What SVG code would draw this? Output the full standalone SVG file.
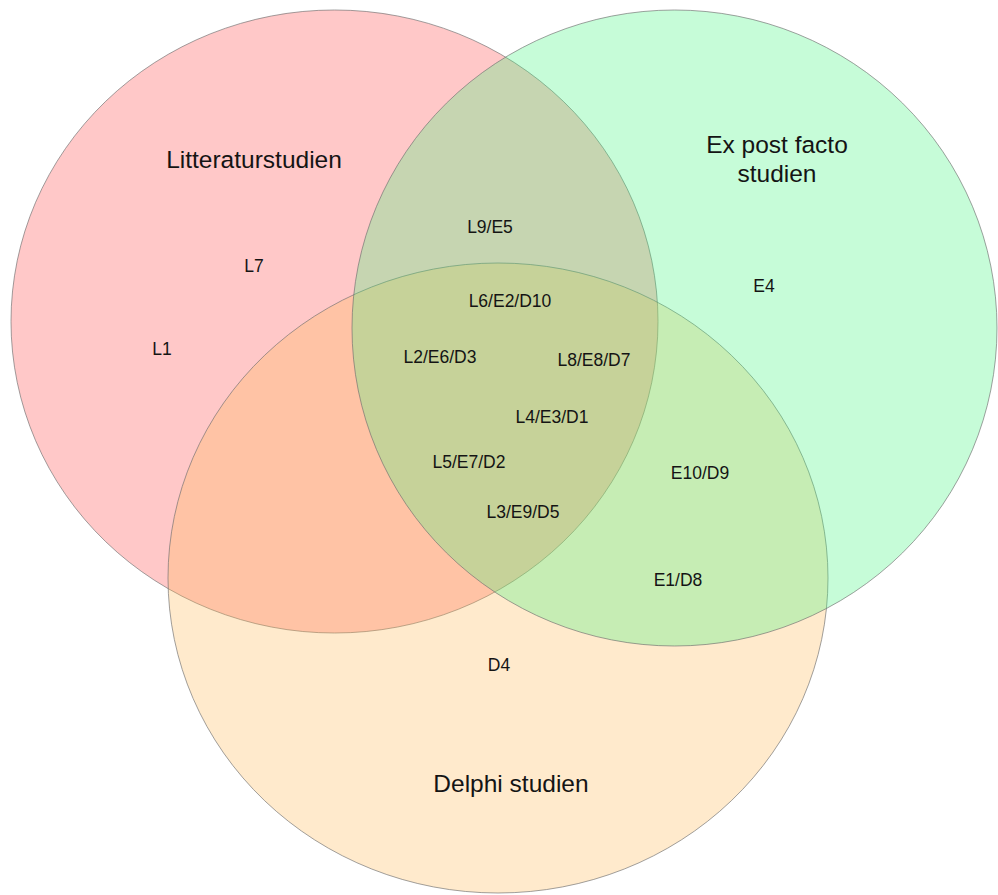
<svg xmlns="http://www.w3.org/2000/svg" width="998" height="895" viewBox="0 0 998 895">
  <style>
    .set { stroke: #6f6f6f; stroke-width: 1; stroke-opacity: 0.65; fill-opacity: 0.3; }
    .title { font-family: "Liberation Sans", Arial, sans-serif; font-size: 24.5px; fill: #141414; text-anchor: middle; }
    .item { font-family: "Liberation Sans", Arial, sans-serif; font-size: 17.5px; fill: #141414; text-anchor: middle; }
  </style>
  <rect width="998" height="895" fill="#ffffff"/>

  <!-- Litteraturstudien set -->
  <g id="set-litteratur">
    <ellipse class="set" cx="334.5" cy="321.5" rx="323.5" ry="311.5" fill="#ff4848"/>
  </g>

  <!-- Delphi studien set -->
  <g id="set-delphi">
    <ellipse class="set" cx="498" cy="578" rx="330" ry="315" fill="#ffb955"/>
  </g>

  <!-- Ex post facto studien set -->
  <g id="set-expost">
    <ellipse class="set" cx="674.5" cy="328" rx="322.5" ry="318" fill="#41f57d"/>
  </g>

  <!-- Set titles -->
  <g id="titles">
    <text class="title" x="254" y="168">Litteraturstudien</text>
    <text class="title" x="777" y="153">Ex post facto</text>
    <text class="title" x="777" y="182">studien</text>
    <text class="title" x="511" y="792">Delphi studien</text>
  </g>

  <!-- Region members -->
  <g id="members">
    <text class="item" x="254" y="272">L7</text>
    <text class="item" x="162" y="355">L1</text>
    <text class="item" x="490" y="233">L9/E5</text>
    <text class="item" x="764" y="292">E4</text>
    <text class="item" x="510" y="307">L6/E2/D10</text>
    <text class="item" x="440" y="363">L2/E6/D3</text>
    <text class="item" x="594" y="366">L8/E8/D7</text>
    <text class="item" x="552" y="423">L4/E3/D1</text>
    <text class="item" x="469" y="468">L5/E7/D2</text>
    <text class="item" x="700" y="479">E10/D9</text>
    <text class="item" x="523" y="518">L3/E9/D5</text>
    <text class="item" x="678" y="586">E1/D8</text>
    <text class="item" x="499" y="671">D4</text>
  </g>
</svg>
